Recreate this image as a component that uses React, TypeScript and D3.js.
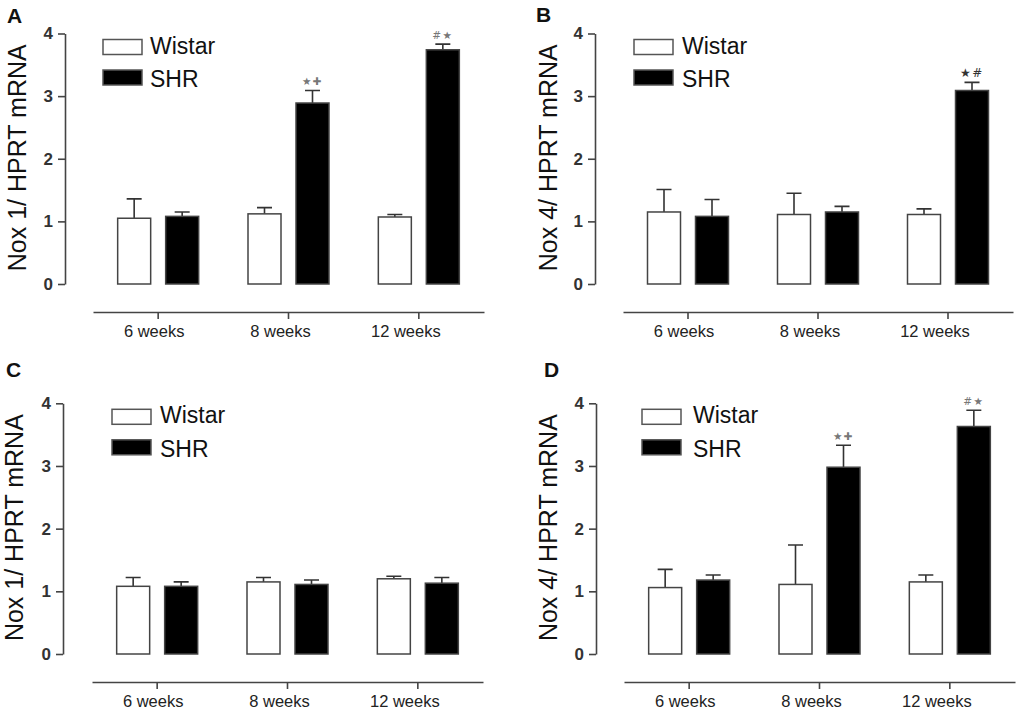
import React, { useEffect, useRef } from 'react';
import * as d3 from 'd3';

const weeks = ['6 weeks', '8 weeks', '12 weeks'];
const yTicks = [0, 1, 2, 3, 4];
const groups = ['Wistar', 'SHR'];

// mean and upper error (mean + SEM)
const nox1aWistar = [1.05, 1.12, 1.07];
const nox1aWistarErr = [1.36, 1.22, 1.11];
const nox1aShr = [1.08, 2.89, 3.74];
const nox1aShrErr = [1.15, 3.09, 3.83];
const nox1aMarks = ['', '★✚', '#★'];

const nox4bWistar = [1.15, 1.11, 1.11];
const nox4bWistarErr = [1.51, 1.45, 1.2];
const nox4bShr = [1.08, 1.15, 3.09];
const nox4bShrErr = [1.35, 1.24, 3.22];
const nox4bMarks = ['', '', '★#'];

const nox1cWistar = [1.08, 1.15, 1.2];
const nox1cWistarErr = [1.22, 1.22, 1.24];
const nox1cShr = [1.08, 1.11, 1.13];
const nox1cShrErr = [1.15, 1.18, 1.22];
const nox1cMarks = ['', '', ''];

const nox4dWistar = [1.06, 1.11, 1.15];
const nox4dWistarErr = [1.35, 1.74, 1.26];
const nox4dShr = [1.18, 2.98, 3.63];
const nox4dShrErr = [1.26, 3.33, 3.89];
const nox4dMarks = ['', '★✚', '#★'];

interface Panel {
  letter: string;
  yLabel: string;
  wistar: number[];
  wistarErr: number[];
  shr: number[];
  shrErr: number[];
  marks: string[];
  axisX: number;
  yTop: number;
  yBottom: number;
  xLineY: number;
  xRange: [number, number];
  legendX: number;
  legendTextX: number;
  labelX: number;
  letterX: number;
  letterY: number;
}

const panels: Panel[] = [
  {
    letter: 'A', yLabel: 'Nox 1/ HPRT mRNA',
    wistar: nox1aWistar, wistarErr: nox1aWistarErr, shr: nox1aShr, shrErr: nox1aShrErr, marks: nox1aMarks,
    axisX: 65, yTop: 33.5, yBottom: 284, xLineY: 312, xRange: [93, 484],
    legendX: 103, legendTextX: 150, labelX: 26, letterX: 7, letterY: 23,
  },
  {
    letter: 'B', yLabel: 'Nox 4/ HPRT mRNA',
    wistar: nox4bWistar, wistarErr: nox4bWistarErr, shr: nox4bShr, shrErr: nox4bShrErr, marks: nox4bMarks,
    axisX: 595, yTop: 33.5, yBottom: 284, xLineY: 312, xRange: [623, 1013],
    legendX: 634, legendTextX: 682, labelX: 557, letterX: 536, letterY: 22,
  },
  {
    letter: 'C', yLabel: 'Nox 1/ HPRT mRNA',
    wistar: nox1cWistar, wistarErr: nox1cWistarErr, shr: nox1cShr, shrErr: nox1cShrErr, marks: nox1cMarks,
    axisX: 63, yTop: 403.3, yBottom: 654, xLineY: 682, xRange: [92, 483],
    legendX: 112, legendTextX: 160, labelX: 23, letterX: 6, letterY: 377,
  },
  {
    letter: 'D', yLabel: 'Nox 4/ HPRT mRNA',
    wistar: nox4dWistar, wistarErr: nox4dWistarErr, shr: nox4dShr, shrErr: nox4dShrErr, marks: nox4dMarks,
    axisX: 596, yTop: 403.3, yBottom: 654, xLineY: 682, xRange: [624, 1015],
    legendX: 642, legendTextX: 693, labelX: 557, letterX: 544, letterY: 377,
  },
];

const FONT = '"Liberation Sans", Arial, sans-serif';
const BAR_W = 33;
const BAR_OFF = 24;
// the week labels sit a little left of their ticks in the original
const LABEL_SHIFT = [-4, -8, -13];

const App: React.FC = () => {
  const svgRef = useRef<SVGSVGElement>(null);

  useEffect(() => {
    if (!svgRef.current) return;
    const svg = d3.select(svgRef.current);
    svg.selectAll('*').remove();

    svg.append('rect').attr('width', 1021).attr('height', 710).attr('fill', '#fff');

    panels.forEach(p => {
      const g = svg.append('g').attr('font-family', FONT);

      const y = d3.scaleLinear().domain([0, 4]).range([p.yBottom, p.yTop]);
      const x = d3.scaleBand().domain(weeks).range(p.xRange).padding(0);

      // panel letter
      g.append('text')
        .attr('x', p.letterX)
        .attr('y', p.letterY)
        .attr('font-size', 21)
        .attr('font-weight', 'bold')
        .attr('fill', '#111')
        .text(p.letter);

      // y axis
      const ya = g.append('g')
        .attr('transform', `translate(${p.axisX},0)`)
        .call(d3.axisLeft(y).tickValues(yTicks).tickFormat(d3.format('d')).tickSize(7).tickSizeOuter(0).tickPadding(5));
      ya.select('.domain').attr('stroke', '#444').attr('stroke-width', 1.6);
      ya.selectAll('.tick line').attr('stroke', '#444').attr('stroke-width', 1.6);
      ya.selectAll('.tick text')
        .attr('font-family', FONT)
        .attr('font-size', 17)
        .attr('font-weight', 'bold')
        .attr('fill', '#333');

      // y label
      g.append('text')
        .attr('transform', `translate(${p.labelX},${(p.yTop + p.yBottom) / 2 - 1}) rotate(-90)`)
        .attr('text-anchor', 'middle')
        .attr('font-size', 25)
        .attr('fill', '#111')
        .text(p.yLabel);

      // separate x axis below
      const xa = g.append('g')
        .attr('transform', `translate(0,${p.xLineY})`)
        .call(d3.axisBottom(x).tickSize(7).tickSizeOuter(0).tickPadding(6));
      xa.select('.domain').attr('stroke', '#444').attr('stroke-width', 1.6);
      xa.selectAll('.tick line').attr('stroke', '#444').attr('stroke-width', 1.6);
      xa.selectAll('.tick text')
        .attr('font-family', FONT)
        .attr('font-size', 16.5)
        .attr('fill', '#222')
        .attr('dx', (d, i) => LABEL_SHIFT[i]);

      const cx = (w: string) => (x(w) as number) + x.bandwidth() / 2;

      const series = [
        { vals: p.wistar, errs: p.wistarErr, off: -BAR_OFF, fill: '#fff' },
        { vals: p.shr, errs: p.shrErr, off: BAR_OFF, fill: '#000' },
      ];

      series.forEach(s => {
        // error bars (upper only)
        g.selectAll(null)
          .data(weeks)
          .enter()
          .append('path')
          .attr('d', (w, i) => {
            const c = cx(w) + s.off;
            return `M${c},${y(s.vals[i])}V${y(s.errs[i])}M${c - 7.5},${y(s.errs[i])}H${c + 7.5}`;
          })
          .attr('stroke', '#333')
          .attr('stroke-width', 1.6)
          .attr('fill', 'none');

        g.selectAll(null)
          .data(weeks)
          .enter()
          .append('rect')
          .attr('x', w => cx(w) + s.off - BAR_W / 2)
          .attr('y', (w, i) => y(s.vals[i]))
          .attr('width', BAR_W)
          .attr('height', (w, i) => y(0) - y(s.vals[i]))
          .attr('fill', s.fill)
          .attr('stroke', '#444')
          .attr('stroke-width', 1.5);
      });

      // significance marks above SHR bars
      g.selectAll(null)
        .data(weeks)
        .enter()
        .append('text')
        .attr('x', w => cx(w) + BAR_OFF)
        .attr('y', (w, i) => y(p.shrErr[i]) - 5)
        .attr('text-anchor', 'middle')
        .attr('font-family', '"DejaVu Sans", sans-serif')
        .attr('font-size', p.letter === 'B' ? 12 : 10.5)
        .attr('letter-spacing', 1.5)
        .attr('fill', p.letter === 'B' ? '#333' : '#777')
        .text((w, i) => p.marks[i]);

      // legend
      groups.forEach((name, i) => {
        g.append('rect')
          .attr('x', p.legendX)
          .attr('y', p.yTop + 6 + i * 30.5)
          .attr('width', 39)
          .attr('height', 15)
          .attr('fill', i === 0 ? '#fff' : '#000')
          .attr('stroke', '#555')
          .attr('stroke-width', 1.5);
        g.append('text')
          .attr('x', p.legendTextX)
          .attr('y', p.yTop + 20 + i * 33.5)
          .attr('font-size', 23)
          .attr('fill', '#111')
          .text(name);
      });
    });
  }, []);

  return (
    <svg
      ref={svgRef}
      width={1021}
      height={710}
      style={{ position: 'absolute', left: 0, top: 0 }}
    ></svg>
  );
};

export default App;
